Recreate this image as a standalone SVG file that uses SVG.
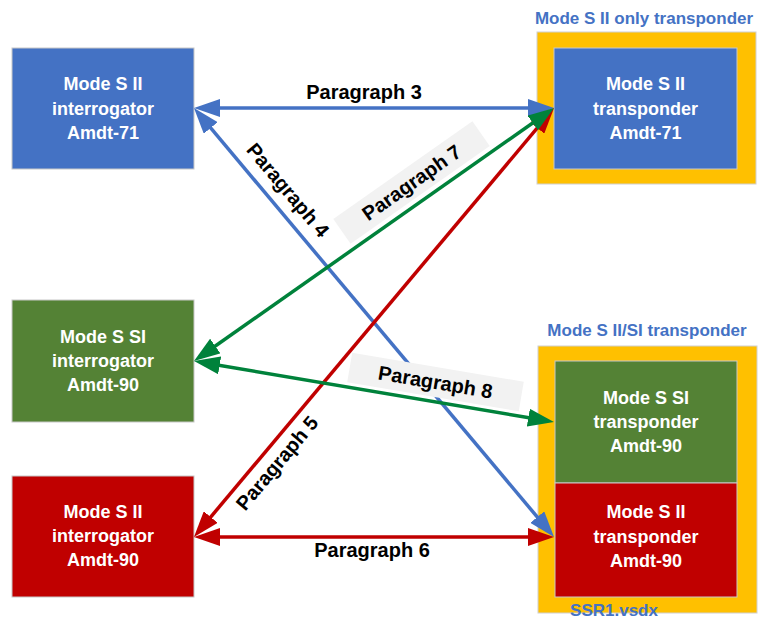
<svg xmlns="http://www.w3.org/2000/svg" width="761" height="619" viewBox="0 0 761 619">
<style>
.box{stroke:#c8c8c8;stroke-width:1}
.blue{fill:#4472C4}
.green{fill:#548235}
.red{fill:#C00000}
.frame{fill:#FFC000;stroke:#d0d0d0;stroke-width:1}
.bt{font-family:"Liberation Sans",Arial,sans-serif;font-weight:bold;font-size:18px;fill:#ffffff;text-anchor:middle}
.title{font-family:"Liberation Sans",Arial,sans-serif;font-weight:bold;font-size:17px;fill:#4472C4;text-anchor:middle}
.lbl{font-family:"Liberation Sans",Arial,sans-serif;font-weight:bold;font-size:20px;fill:#000000;text-anchor:middle}
.lblbg{fill:#f2f2f2}
.cb{stroke:#4472C4;stroke-width:3.5;fill:none}
.cr{stroke:#C00000;stroke-width:3.5;fill:none}
.cg{stroke:#00823B;stroke-width:3.5;fill:none}
</style>
<defs>
<marker id="ab" markerUnits="userSpaceOnUse" markerWidth="27" markerHeight="18" refX="16" refY="9" orient="auto-start-reverse"><path d="M0,0 L26,9 L0,18 z" fill="#4472C4"/></marker>
<marker id="ar" markerUnits="userSpaceOnUse" markerWidth="27" markerHeight="18" refX="16" refY="9" orient="auto-start-reverse"><path d="M0,0 L26,9 L0,18 z" fill="#C00000"/></marker>
<marker id="ag" markerUnits="userSpaceOnUse" markerWidth="27" markerHeight="18" refX="16" refY="9" orient="auto-start-reverse"><path d="M0,0 L26,9 L0,18 z" fill="#00823B"/></marker>
</defs>
<rect width="761" height="619" fill="#ffffff"/>

<g id="group-top">
<text class="title" x="644" y="24">Mode S II only transponder</text>
<rect class="frame" x="537" y="32" width="219" height="152"/>
</g>
<g id="group-bottom">
<text class="title" x="647" y="336">Mode S II/SI transponder</text>
<rect class="frame" x="538" y="346" width="219" height="267"/>
<text class="title" x="614" y="616">SSR1.vsdx</text>
</g>

<g id="node-int71">
<rect class="box blue" x="12" y="48" width="182" height="121"/>
<text class="bt" x="103" y="90">Mode S II</text>
<text class="bt" x="103" y="115">interrogator</text>
<text class="bt" x="103" y="139">Amdt-71</text>
</g>
<g id="node-intsi90">
<rect class="box green" x="12" y="300" width="182" height="122"/>
<text class="bt" x="103" y="343">Mode S SI</text>
<text class="bt" x="103" y="367">interrogator</text>
<text class="bt" x="103" y="391">Amdt-90</text>
</g>
<g id="node-int90">
<rect class="box red" x="12" y="476" width="182" height="121"/>
<text class="bt" x="103" y="518">Mode S II</text>
<text class="bt" x="103" y="542">interrogator</text>
<text class="bt" x="103" y="566">Amdt-90</text>
</g>
<g id="node-tr71">
<rect class="box blue" x="554" y="48" width="183" height="121"/>
<text class="bt" x="645.5" y="90">Mode S II</text>
<text class="bt" x="645.5" y="115">transponder</text>
<text class="bt" x="645.5" y="139">Amdt-71</text>
</g>
<g id="node-trsi90">
<rect class="box green" x="555" y="361" width="182" height="122"/>
<text class="bt" x="646" y="404">Mode S SI</text>
<text class="bt" x="646" y="428">transponder</text>
<text class="bt" x="646" y="452">Amdt-90</text>
</g>
<g id="node-tr90">
<rect class="box red" x="555" y="483" width="182" height="114"/>
<text class="bt" x="646" y="518">Mode S II</text>
<text class="bt" x="646" y="543">transponder</text>
<text class="bt" x="646" y="567">Amdt-90</text>
</g>

<g id="connectors">
<line class="cb" x1="204" y1="108" x2="544" y2="108" marker-start="url(#ab)" marker-end="url(#ab)"/>
<line class="cb" x1="200.4" y1="115.7" x2="547.6" y2="529.3" marker-start="url(#ab)" marker-end="url(#ab)"/>
<line class="cr" x1="200.4" y1="529.3" x2="547.6" y2="115.7" marker-start="url(#ar)" marker-end="url(#ar)"/>
<line class="cr" x1="204" y1="537" x2="544" y2="537" marker-start="url(#ar)" marker-end="url(#ar)"/>
<line class="cg" x1="202.2" y1="355.25" x2="545.8" y2="113.75" marker-start="url(#ag)" marker-end="url(#ag)"/>
<line class="cg" x1="203.9" y1="362.7" x2="544.1" y2="420.3" marker-start="url(#ag)" marker-end="url(#ag)"/>
</g>

<g id="labels">
<text class="lbl" x="364" y="99">Paragraph 3</text>
<text class="lbl" x="372" y="557">Paragraph 6</text>
<g transform="translate(288,190) rotate(50)"><text class="lbl" x="0" y="7">Paragraph 4</text></g>
<g transform="translate(277,463) rotate(-50)"><text class="lbl" x="0" y="7">Paragraph 5</text></g>
<g transform="translate(411.5,182.5) rotate(-35.1)"><rect class="lblbg" x="-85" y="-15" width="170" height="30"/><text class="lbl" x="0" y="7">Paragraph 7</text></g>
<g transform="translate(435.5,382) rotate(9.6)"><rect class="lblbg" x="-87" y="-15" width="174" height="30"/><text class="lbl" x="0" y="7">Paragraph 8</text></g>
</g>
</svg>
